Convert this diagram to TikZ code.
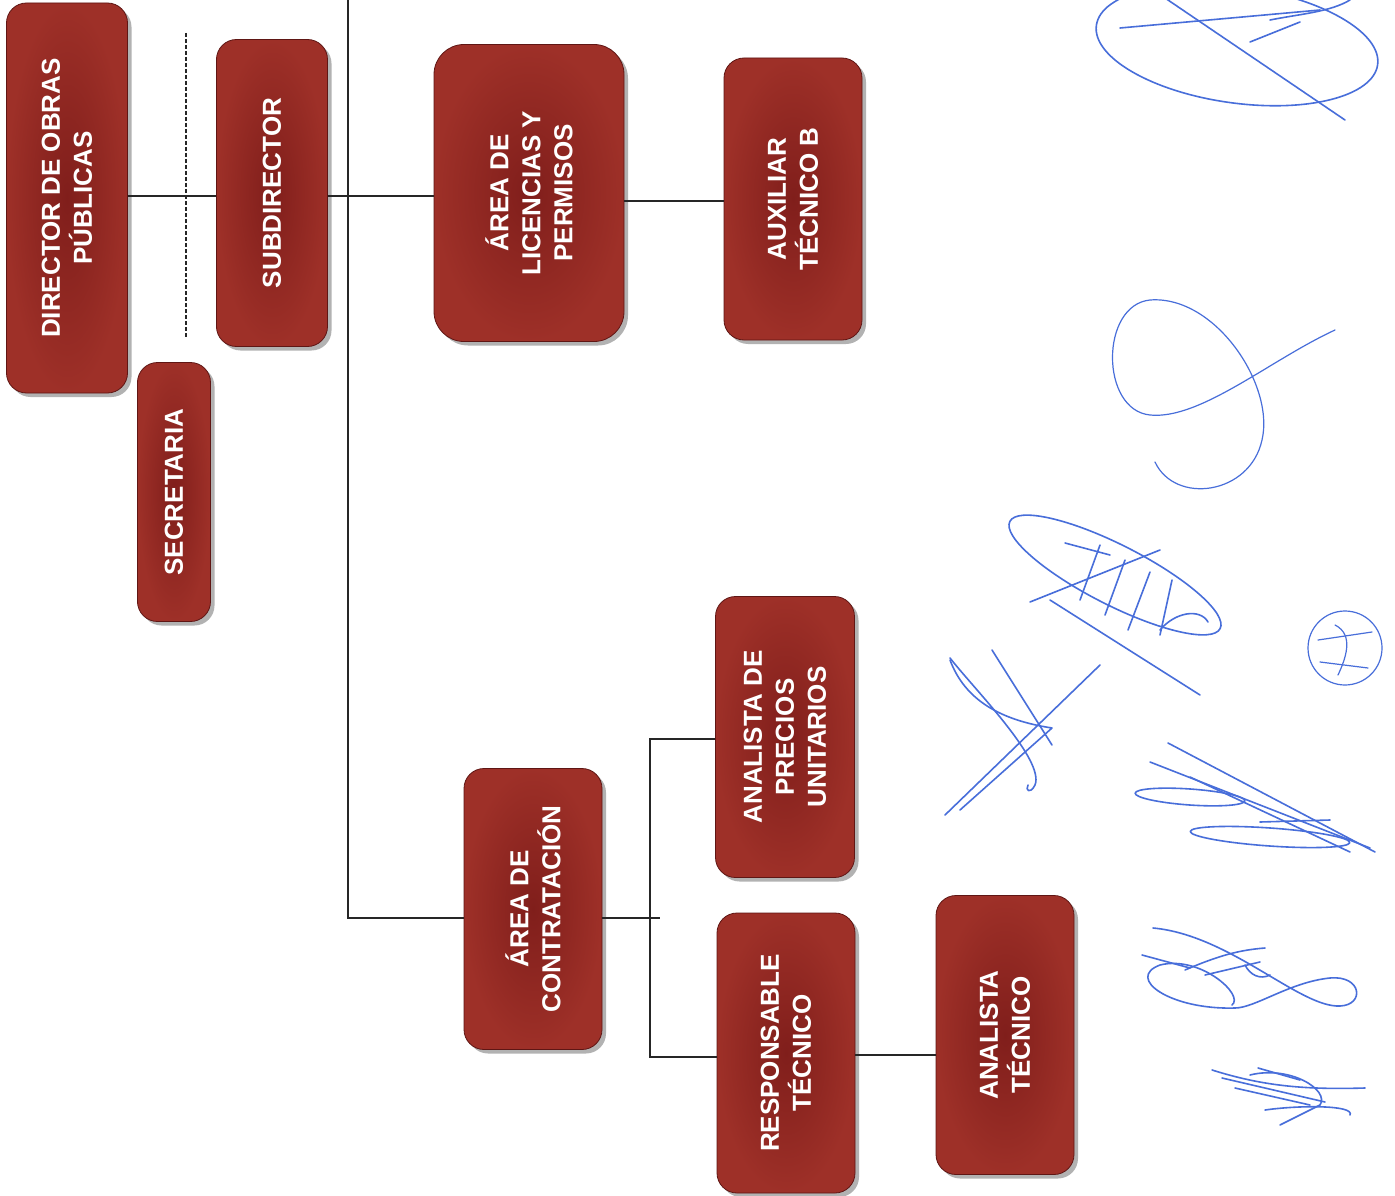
\documentclass[tikz,border=0pt]{standalone}
\usepackage{fontspec}
\setmainfont{Liberation Sans}
\usetikzlibrary{shadows}
\definecolor{boxred}{RGB}{128,30,27}
\definecolor{boxlight}{RGB}{158,48,40}
\definecolor{boxedge}{RGB}{95,22,20}
\definecolor{sigblue}{RGB}{72,110,218}
\tikzset{
  box/.style={rounded corners=20pt, inner color=boxred, outer color=boxlight, draw=boxedge, line width=0.8pt,
    text=white, font=\bfseries\fontsize{26}{32}\selectfont, align=center,
    rotate=90, inner sep=0pt,
    drop shadow={shadow xshift=4pt, shadow yshift=-4pt, opacity=0.3, fill=black}},
  conn/.style={draw=black!85, line width=1.2pt},
  sig/.style={draw=sigblue, line width=1.6pt, line cap=round, line join=round}
}
\begin{document}
\begin{tikzpicture}[x=1pt,y=-1pt]
\useasboundingbox (0,0) rectangle (1395,1196);
\fill[white] (0,0) rectangle (1395,1196);

% boxes (minimum width = vertical extent, minimum height = horizontal extent)
\node[box, minimum width=390pt, minimum height=121pt] (dir) at (67,198) {DIRECTOR DE OBRAS\\PÚBLICAS};
\node[box, minimum width=307pt, minimum height=111pt] (sub) at (272,193) {SUBDIRECTOR};
\node[box, minimum width=259pt, minimum height=73pt]  (sec) at (174,492) {SECRETARIA};
\node[box, minimum width=297pt, minimum height=190pt, rounded corners=30pt] (lic) at (529,193) {ÁREA DE\\LICENCIAS Y\\PERMISOS};
\node[box, minimum width=282pt, minimum height=138pt] (aux) at (793,199) {AUXILIAR\\TÉCNICO B};
\node[box, minimum width=281pt, minimum height=139pt] (apu) at (785,737) {ANALISTA DE\\PRECIOS\\UNITARIOS};
\node[box, minimum width=281pt, minimum height=138pt] (con) at (533,909) {ÁREA DE\\CONTRATACIÓN};
\node[box, minimum width=280pt, minimum height=138pt] (res) at (786,1053) {RESPONSABLE\\TÉCNICO};
\node[box, minimum width=279pt, minimum height=138pt] (ana) at (1005,1035) {ANALISTA\\TÉCNICO};

% connectors
\coordinate (top) at (348,0);
\coordinate (bot) at (348,918);
\coordinate (d1) at (186,33);
\coordinate (d2) at (186,337);
\coordinate (brx) at (660,918);
\coordinate (bt) at (650,739);
\coordinate (bb) at (650,1057);

\draw[conn] (dir.south |- 0,196) -- (sub.north |- 0,196);
\draw[conn, dashed, dash pattern=on 4pt off 2pt] (d1) -- (d2);
\draw[conn] (top) -- (bot) -- (bot -| con.north);
\draw[conn] (sub.south |- 0,196) -- (lic.north |- 0,196);
\draw[conn] (lic.south |- 0,201) -- (aux.north |- 0,201);
\draw[conn] (con.south |- brx) -- (brx);
\draw[conn] (apu.north |- bt) -- (bt) -- (bb) -- (res.north |- bb);
\draw[conn] (res.south |- 0,1055) -- (ana.north |- 0,1055);

% signatures (approximate)
% 1
\draw[sig, rotate around={-8:(1237,45)}] (1237,45) ellipse (142pt and 58pt);
\draw[sig] (1165,-2) -- (1345,120);
\draw[sig] (1120,28) -- (1320,10);
\draw[sig] (1250,42) -- (1300,22);
\draw[sig] (1270,20) .. controls (1300,14) and (1330,12) .. (1350,0);
% 2
\draw[sig, line width=1.2pt] (1335,330) .. controls (1270,360) and (1200,420) .. (1150,415)
  .. controls (1100,410) and (1100,305) .. (1150,300)
  .. controls (1215,295) and (1275,385) .. (1262,440)
  .. controls (1250,495) and (1175,505) .. (1155,462);
% 3
\draw[sig, rotate around={-27:(1115,575)}] (1115,575) ellipse (118pt and 30pt);
\draw[sig] (1050,600) -- (1200,695);
\draw[sig] (1030,602) -- (1160,550);
\draw[sig] (1065,543) -- (1110,555);
\draw[sig] (1100,545) -- (1080,600);
\draw[sig] (1125,560) -- (1105,615);
\draw[sig] (1150,572) -- (1128,630);
\draw[sig] (1172,580) -- (1160,635);
\draw[sig] (1160,630) .. controls (1175,612) and (1200,608) .. (1208,622);
% 4
\draw[sig, line width=1.2pt] (1345,648) circle (37pt);
\draw[sig, line width=1.2pt] (1318,640) -- (1372,632);
\draw[sig, line width=1.2pt] (1320,662) -- (1368,668);
\draw[sig, line width=1.2pt] (1335,625) .. controls (1355,635) and (1345,660) .. (1338,675);
% 5
\draw[sig] (1100,665) -- (945,815);
\draw[sig] (992,650) -- (1052,745);
\draw[sig] (950,658) .. controls (975,690) and (1045,760) .. (1035,785) .. controls (1030,795) and (1025,790) .. (1028,785);
\draw[sig] (950,660) .. controls (965,700) and (1000,720) .. (1052,728) -- (960,810);
% 6
\draw[sig] (1168,743) -- (1375,852);
\draw[sig] (1150,762) -- (1370,848);
\draw[sig] (1190,777) -- (1350,852);
\draw[sig, rotate around={-4:(1190,797)}] (1190,797) ellipse (55pt and 8pt);
\draw[sig, rotate around={-4:(1270,837)}] (1270,837) ellipse (80pt and 9pt);
\draw[sig] (1260,822) -- (1330,820);
% 7
\draw[sig] (1153,928) .. controls (1230,935) and (1300,1008) .. (1340,1006)
  .. controls (1365,1005) and (1362,975) .. (1330,978)
  .. controls (1290,982) and (1255,1008) .. (1235,1008)
  .. controls (1170,1010) and (1125,978) .. (1160,965)
  .. controls (1200,955) and (1245,995) .. (1232,1005);
\draw[sig] (1142,955) -- (1190,968);
\draw[sig] (1185,970) .. controls (1220,955) and (1240,950) .. (1265,948);
\draw[sig] (1205,975) -- (1260,962);
\draw[sig] (1245,965) .. controls (1250,975) and (1260,980) .. (1270,975);
% 8
\draw[sig] (1212,1070) .. controls (1260,1085) and (1300,1090) .. (1365,1088);
\draw[sig] (1222,1078) -- (1325,1102);
\draw[sig] (1235,1088) -- (1310,1105);
\draw[sig] (1250,1075) .. controls (1290,1065) and (1330,1090) .. (1320,1105) -- (1280,1125);
\draw[sig] (1265,1110) .. controls (1300,1105) and (1355,1105) .. (1350,1115);
\draw[sig] (1258,1068) -- (1300,1080);
\end{tikzpicture}
\end{document}
